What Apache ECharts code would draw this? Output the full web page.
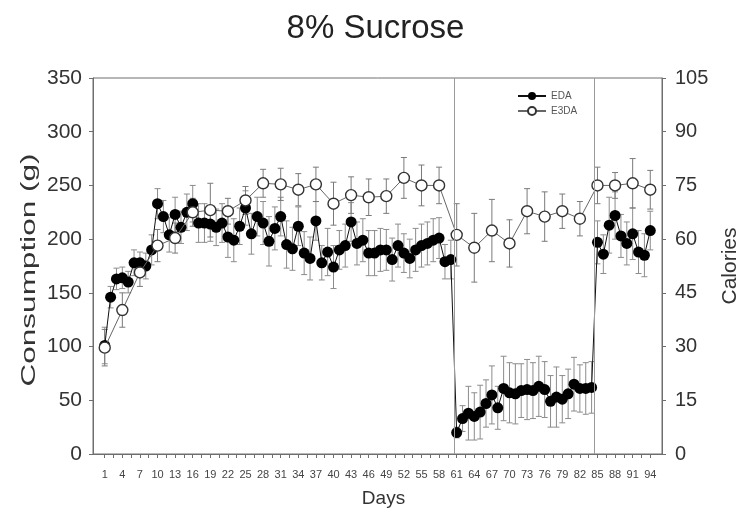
<!DOCTYPE html>
<html>
<head>
<meta charset="utf-8">
<script src="https://cdn.jsdelivr.net/npm/echarts@6/dist/echarts.min.js"></script>
<style>
  html, body { margin: 0; padding: 0; background: #fff; }
  #chart { width: 751px; height: 516px; }
</style>
</head>
<body>
<div id="chart"></div>
<script>
// Daily consumption, EDA group (days 1-94)
const edaDays = [1,2,3,4,5,6,7,8,9,10,11,12,13,14,15,16,17,18,19,20,21,22,23,24,25,26,27,28,29,30,
  31,32,33,34,35,36,37,38,39,40,41,42,43,44,45,46,47,48,49,50,51,52,53,54,55,56,57,58,59,60,
  61,62,63,64,65,66,67,68,69,70,71,72,73,74,75,76,77,78,79,80,81,82,83,84,
  85,86,87,88,89,90,91,92,93,94];
const edaMean = [101,146,163,164,160,178,178,175,190,233,221,204,223,211,225,233,215,215,214,211,
  215,202,199,212,229,205,221,215,198,210,221,195,191,212,187,182,217,178,188,174,
  190,194,216,196,199,187,187,190,190,181,194,187,182,190,194,196,199,201,179,181,
  20,33,38,35,39,47,55,43,61,57,56,59,60,59,63,60,49,53,51,56,65,61,61,62,
  197,186,213,222,203,196,205,188,185,208];
const edaSem = [17,10,10,10,10,12,10,12,14,14,15,16,16,15,17,17,18,18,16,17,
  18,19,20,17,16,19,18,20,23,20,18,22,20,18,20,20,18,16,22,20,
  18,20,18,20,20,21,21,20,19,20,20,18,18,20,20,20,20,19,16,18,
  5,12,25,22,25,22,27,20,30,28,28,25,28,26,28,26,24,28,22,23,25,22,24,24,
  20,18,26,22,20,20,24,20,20,18];

// Consumption measured every third day, E3DA group
const e3daDays = [1,4,7,10,13,16,19,22,25,28,31,34,37,40,43,46,49,52,55,58,61,64,67,70,73,76,79,82,85,88,91,94];
const e3daMean = [99,134,169,194,201,225,227,226,236,252,251,246,251,233,241,239,240,257,250,250,
  204,192,208,196,226,221,226,219,250,250,252,246];
const e3daSem = [17,16,13,15,14,13,25,12,13,13,15,15,16,20,17,17,16,19,19,17,
  29,32,29,22,21,23,16,16,17,12,23,18];

// Phase boundaries
const phaseBreaks = [60.5, 84.5];

// Axis tick labels
const dayLabels = [1,4,7,10,13,16,19,22,25,28,31,34,37,40,43,46,49,52,55,58,61,64,67,70,73,76,79,82,85,88,91,94];
const gramTicks = [0,50,100,150,200,250,300,350];
const calorieTicks = [0,15,30,45,60,75,90,105];

// Tick marks at each labelled day and halfway between them
const dayTickMarks = [];
dayLabels.forEach((d, i) => {
  dayTickMarks.push(d);
  if (i < dayLabels.length - 1) dayTickMarks.push((d + dayLabels[i + 1]) / 2);
});

const FONT = '"Liberation Sans", Arial, sans-serif';
const AXIS_COLOR = '#6e6e6e';
const GRID = { left: 93, right: 89, top: 78, bottom: 62 };

function errorBars(name, days, mean, sem, color) {
  return {
    name: name + ' SEM',
    type: 'custom',
    silent: true,
    z: 1,
    data: days.map((d, i) => [d, mean[i] - sem[i], mean[i] + sem[i]]),
    encode: { x: 0, y: [1, 2] },
    renderItem: function (params, api) {
      const x = api.value(0);
      const lo = api.coord([x, api.value(1)]);
      const hi = api.coord([x, api.value(2)]);
      const w = 3;
      const style = { stroke: color, lineWidth: 1, fill: null };
      return {
        type: 'group',
        children: [
          { type: 'line', shape: { x1: lo[0], y1: lo[1], x2: hi[0], y2: hi[1] }, style: style },
          { type: 'line', shape: { x1: hi[0] - w, y1: hi[1], x2: hi[0] + w, y2: hi[1] }, style: style },
          { type: 'line', shape: { x1: lo[0] - w, y1: lo[1], x2: lo[0] + w, y2: lo[1] }, style: style }
        ]
      };
    }
  };
}

const chart = echarts.init(document.getElementById('chart'), null, { renderer: 'canvas' });

chart.setOption({
  animation: false,
  backgroundColor: '#ffffff',
  textStyle: { fontFamily: FONT },
  title: {
    text: '8% Sucrose',
    left: 'center',
    top: 7,
    textStyle: { fontFamily: FONT, fontSize: 33, fontWeight: 'normal', color: '#222' }
  },
  legend: {
    data: ['EDA', 'E3DA'],
    orient: 'vertical',
    left: 512,
    top: 86,
    itemWidth: 28,
    itemHeight: 10,
    itemGap: 5,
    textStyle: { fontFamily: FONT, fontSize: 10, color: '#555' }
  },
  // Left axis title, drawn as a rotated text element so its length can follow the axis
  graphic: [
    {
      type: 'text',
      x: 29,
      y: 270,
      rotation: Math.PI / 2,
      scaleX: 1.5,
      silent: true,
      style: {
        text: 'Consumption (g)',
        font: '21px ' + FONT,
        fill: '#333',
        align: 'center',
        verticalAlign: 'middle'
      }
    }
  ],
  grid: Object.assign({ show: true, borderColor: AXIS_COLOR, borderWidth: 1, containLabel: false }, GRID),
  xAxis: {
    type: 'value',
    min: -1, max: 96,
    name: 'Days',
    nameLocation: 'middle',
    nameGap: 35,
    nameTextStyle: { fontFamily: FONT, fontSize: 19, color: '#333', padding: [0, 0, 0, 12] },
    splitLine: { show: false },
    axisLine: { show: true, onZero: false, lineStyle: { color: AXIS_COLOR } },
    axisTick: { show: true, length: 4, customValues: dayTickMarks, lineStyle: { color: AXIS_COLOR } },
    axisLabel: { customValues: dayLabels, margin: 15, fontSize: 11, color: '#444', fontFamily: FONT }
  },
  yAxis: [
    {
      type: 'value',
      min: 0, max: 350, interval: 50,
      position: 'left',
      splitLine: { show: false },
      axisLine: { show: true, onZero: false, lineStyle: { color: AXIS_COLOR } },
      axisTick: { show: true, length: 4, lineStyle: { color: AXIS_COLOR } },
      axisLabel: { customValues: gramTicks, margin: 11, fontSize: 21, color: '#333', fontFamily: FONT }
    },
    {
      type: 'value',
      min: 0, max: 105, interval: 15,
      position: 'right',
      name: 'Calories',
      nameLocation: 'middle',
      nameGap: 56,
      nameTextStyle: { fontFamily: FONT, fontSize: 21, color: '#333' },
      splitLine: { show: false },
      axisLine: { show: true, onZero: false, lineStyle: { color: AXIS_COLOR } },
      axisTick: { show: true, length: 4, lineStyle: { color: AXIS_COLOR } },
      axisLabel: { customValues: calorieTicks, margin: 13, fontSize: 20, color: '#333', fontFamily: FONT }
    }
  ],
  series: [
    errorBars('EDA', edaDays, edaMean, edaSem, '#8c8c8c'),
    errorBars('E3DA', e3daDays, e3daMean, e3daSem, '#7a7a7a'),
    {
      name: 'EDA',
      type: 'line',
      z: 3,
      data: edaDays.map((d, i) => [d, edaMean[i]]),
      symbol: 'circle',
      symbolSize: 11,
      itemStyle: { color: '#000' },
      lineStyle: { color: '#111', width: 1 },
      markLine: {
        silent: true,
        symbol: 'none',
        label: { show: false },
        lineStyle: { color: '#9a9a9a', width: 1, type: 'solid' },
        data: phaseBreaks.map(v => ({ xAxis: v }))
      }
    },
    {
      name: 'E3DA',
      type: 'line',
      z: 4,
      data: e3daDays.map((d, i) => [d, e3daMean[i]]),
      symbol: 'circle',
      symbolSize: 11,
      itemStyle: { color: '#fff', borderColor: '#333', borderWidth: 1.4 },
      lineStyle: { color: '#666', width: 1 }
    }
  ]
});
</script>
</body>
</html>
